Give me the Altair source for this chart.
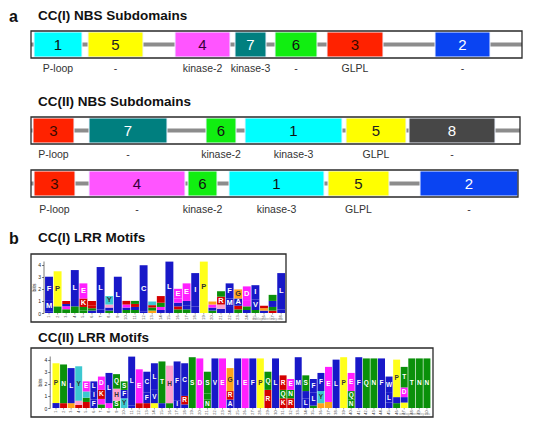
import altair as alt
import numpy as np
import pandas as pd

# ---------------- NBS subdomain diagrams (positions along the NBS) ----------------
nbs1_title = "CC(I) NBS Subdomains"
nbs1_ids = ["1", "5", "4", "7", "6", "3", "2"]
nbs1_start = [3, 57, 144, 204, 244, 296, 404]
nbs1_end = [51, 112, 199, 235, 286, 352, 459]
nbs1_motif = ["P-loop", "-", "kinase-2", "kinase-3", "-", "GLPL", "-"]
nbs1_length = 491

nbs2_title = "CC(II) NBS Subdomains"
nbs2_ids = ["3", "7", "6", "1", "5", "8"]
nbs2_start = [2, 58, 175, 214, 315, 378]
nbs2_end = [43, 136, 205, 311, 375, 464]
nbs2_motif = ["P-loop", "-", "kinase-2", "kinase-3", "GLPL", "-"]
nbs2_length = 489

nbs3_ids = ["3", "4", "6", "1", "5", "2"]
nbs3_start = [3, 58, 157, 198, 297, 389]
nbs3_end = [44, 154, 186, 293, 358, 487]
nbs3_motif = ["P-loop", "-", "kinase-2", "kinase-3", "GLPL", "-"]
nbs3_length = 487

# ---------------- LRR sequence logos (letter, bits), bottom to top ----------------
lrr1_title = "CC(I) LRR Motifs"
lrr1_columns = [
    [("A", 0.15), ("M", 0.85), ("F", 2.0)],
    [("Q", 0.25), ("S", 0.3), ("P", 2.9)],
    [("S", 0.3), ("E", 0.25), ("L", 0.2), ("R", 0.25)],
    [("T", 0.55), ("L", 3.0)],
    [("Q", 0.2), ("S", 0.3), ("K", 0.7), ("E", 1.25)],
    [("A", 0.2), ("S", 0.2), ("R", 0.2), ("K", 0.4)],
    [("V", 0.3), ("L", 3.5)],
    [("S", 0.2), ("A", 0.25), ("H", 0.25), ("Y", 0.7)],
    [("L", 3.0)],
    [("T", 0.25), ("A", 0.2), ("E", 0.25), ("R", 0.3)],
    [("S", 0.25), ("V", 0.25), ("R", 0.25), ("N", 0.25)],
    [("A", 0.1), ("C", 3.85)],
    [("G", 0.2), ("S", 0.25), ("R", 0.2), ("Y", 0.3)],
    [("A", 0.25), ("E", 0.25), ("S", 0.35), ("K", 0.55)],
    [("L", 4.25)],
    [("T", 0.3), ("K", 0.25), ("A", 0.3), ("D", 0.35), ("E", 0.8)],
    [("S", 0.3), ("V", 0.3), ("A", 0.4), ("E", 1.45)],
    [("V", 0.55), ("I", 2.75)],
    [("P", 4.25)],
    [("S", 0.2), ("L", 0.25), ("E", 0.25), ("G", 0.25)],
    [("C", 0.35), ("H", 0.35), ("R", 0.65), ("S", 0.45)],
    [("L", 0.5), ("M", 0.7), ("F", 1.25)],
    [("S", 0.3), ("K", 0.3), ("A", 0.6), ("G", 0.75)],
    [("V", 0.25), ("T", 0.3), ("E", 0.45), ("D", 1.2)],
    [("S", 0.25), ("V", 0.85), ("I", 1.2)],
    [("A", 0.2), ("G", 0.2), ("R", 0.2)],
    [("K", 0.2), ("S", 0.3), ("A", 0.5), ("T", 0.5)],
    [("F", 0.3), ("L", 3.0)],
]

lrr2_title = "CC(II) LRR Motifs"
lrr2_columns = [
    [("L", 0.41), ("P", 3.29)],
    [("R", 0.4), ("N", 3.2)],
    [("G", 0.4), ("L", 2.9)],
    [("K", 0.25), ("H", 0.35), ("Y", 2.85)],
    [("K", 0.5), ("S", 0.35), ("Y", 0.52), ("E", 0.83)],
    [("F", 0.7), ("I", 0.7), ("L", 0.8)],
    [("S", 0.3), ("E", 0.45), ("K", 0.75), ("D", 1.1)],
    [("E", 0.4), ("L", 2.5)],
    [("S", 0.6), ("H", 1.0), ("Q", 1.2)],
    [("Y", 0.8), ("F", 0.7), ("S", 0.7)],
    [("V", 0.2), ("L", 4.05)],
    [("R", 0.4), ("E", 2.8)],
    [("K", 0.4), ("F", 0.9), ("C", 1.7)],
    [("P", 0.4), ("V", 1.1), ("L", 2.2)],
    [("A", 0.4), ("T", 3.45)],
    [("S", 0.4), ("H", 3.1)],
    [("I", 0.6), ("F", 3.25)],
    [("A", 0.3), ("R", 0.7), ("C", 2.7)],
    [("S", 4.2)],
    [("D", 4.1)],
    [("N", 0.7), ("T", 0.5), ("S", 1.8)],
    [("V", 4.1)],
    [("E", 4.1)],
    [("A", 0.7), ("R", 0.7), ("G", 1.9)],
    [("I", 4.1)],
    [("E", 4.1)],
    [("F", 4.1)],
    [("P", 4.1)],
    [("R", 1.5), ("Q", 1.5)],
    [("L", 4.1)],
    [("K", 0.8), ("Q", 0.7), ("R", 1.2)],
    [("R", 0.8), ("N", 0.7), ("E", 0.9)],
    [("M", 4.2)],
    [("L", 0.8), ("C", 0.6), ("S", 1.3)],
    [("T", 0.2), ("L", 1.1), ("F", 1.1)],
    [("G", 0.4), ("Y", 1.0), ("F", 1.5)],
    [("G", 0.5), ("E", 2.9)],
    [("L", 4.0)],
    [("P", 4.2)],
    [("N", 0.7), ("Q", 0.7), ("E", 1.5)],
    [("F", 4.2)],
    [("Q", 4.1)],
    [("N", 4.1)],
    [("F", 4.1)],
    [("M", 0.45), ("L", 0.8), ("W", 1.35)],
    [("S", 0.4), ("A", 0.5), ("P", 3.1)],
    [("P", 0.45), ("A", 0.45), ("D", 0.8), ("T", 1.7)],
    [("T", 4.1)],
    [("N", 4.1)],
    [("N", 4.1)],
]

# ---------------- styles ----------------
domain_fill = {"1": "#00ffff", "2": "#0a44f2", "3": "#ff2200", "4": "#ff55ff",
               "5": "#ffff00", "6": "#11ee11", "7": "#007f7f", "8": "#474747"}
domain_ink = {"1": "#111111", "2": "#ffffff", "3": "#3a0a00", "4": "#3a003a",
              "5": "#222222", "6": "#111111", "7": "#ffffff", "8": "#ffffff"}

BLUE, GREEN, MAG, RED = "#1818c8", "#0a900a", "#ff1fff", "#d40000"
YEL, ORA, CYA, PINK = "#ffff1a", "#ffa31a", "#3cc8d0", "#ff9fcf"
letter_color = {**{k: BLUE for k in "ACFILMVW"}, **{k: GREEN for k in "NQST"},
                "D": MAG, "E": MAG, "K": RED, "R": RED, "G": ORA, "Y": CYA,
                "H": PINK, "P": YEL}
dark_text = list("PGYH")


def heading_layers(one, title, tag, title_y):
    layers = []
    if title:
        layers.append(one.mark_text(align="left", baseline="alphabetic", fontSize=13.5,
                                    fontWeight="bold", color="#111111").encode(
            x=alt.value(7), y=alt.value(title_y), text="title:N"))
    if tag:
        layers.append(one.mark_text(align="left", baseline="alphabetic", fontSize=16,
                                    fontWeight="bold", color="#111111").encode(
            x=alt.value(-22), y=alt.value(title_y + 1.5), text="tag:N"))
    return layers


def nbs_panel(ids, start, end, motif, length, height, label_y,
              title=None, title_y=-11, tag=None, box_h=27):
    df = pd.DataFrame({"id": ids, "start": start, "end": end, "motif": motif})
    df["mid"] = (df["start"] + df["end"]) / 2
    df["fill"] = df["id"].map(domain_fill)
    df["ink"] = df["id"].map(domain_ink)
    xs = alt.Scale(domain=[0, length], nice=False, zero=False)
    base = alt.Chart(df)
    one = alt.Chart(pd.DataFrame({"title": [title or ""], "tag": [tag or ""]}))
    layers = [
        one.mark_rule(color="#8c8c8c", strokeWidth=4).encode(
            x=alt.value(0), x2=alt.value(length), y=alt.value(box_h / 2)),
        base.mark_rect(stroke="#eef3ff", strokeWidth=1).encode(
            x=alt.X("start:Q", scale=xs, axis=None), x2="end:Q",
            y=alt.value(1), y2=alt.value(box_h - 1),
            color=alt.Color("fill:N", scale=None)),
        base.mark_text(fontSize=15, baseline="middle").encode(
            x=alt.X("mid:Q", scale=xs, axis=None), y=alt.value(box_h / 2 + 0.5),
            text="id:N", color=alt.Color("ink:N", scale=None)),
        base.mark_text(fontSize=10.5, baseline="middle", color="#333333").encode(
            x=alt.X("mid:Q", scale=xs, axis=None), y=alt.value(label_y), text="motif:N"),
        one.mark_rect(fillOpacity=0, stroke="#2a2a2a", strokeWidth=1.3).encode(
            x=alt.value(0), x2=alt.value(length), y=alt.value(0), y2=alt.value(box_h)),
    ]
    layers += heading_layers(one, title, tag, title_y)
    return alt.layer(*layers).properties(width=length, height=height)


def logo_panel(columns, length, lead, step, axis_at, letter_size, title, title_y,
               height, tag=None, top=7, plot_h=52, box_h=68):
    rows = []
    for i, col in enumerate(columns, start=1):
        y = 0.0
        for letter, bits in col:
            rows.append({"pos": i, "letter": letter, "y0": y, "y1": y + bits})
            y += bits
    df = pd.DataFrame(rows)
    df["xa"] = df["pos"] - 0.46
    df["xb"] = df["pos"] + 0.46
    df["ym"] = (df["y0"] + df["y1"]) / 2
    df["fill"] = df["letter"].map(letter_color)
    df["ink"] = np.where(df["letter"].isin(dark_text), "#333333", "#ffffff")
    lab = df[(df["y1"] - df["y0"]) >= 0.6]
    n = len(columns)
    xs = alt.Scale(domain=[0.5 - lead / step, 0.5 + (length - lead) / step],
                   nice=False, zero=False)
    ys = alt.Scale(domain=[0, 4.3], range=[top + plot_h, top], nice=False)
    y_axis = alt.Axis(values=[0, 1, 2, 3, 4], title="bits", titleFontSize=5,
                      titleFontWeight="normal", titlePadding=1, labelFontSize=5,
                      labelPadding=1, tickSize=2, tickWidth=0.6, domainWidth=0.6,
                      domainColor="#222222", tickColor="#222222", labelColor="#222222",
                      titleColor="#222222", offset=-axis_at, grid=False, format="d")
    one = alt.Chart(pd.DataFrame({"title": [title or ""], "tag": [tag or ""],
                                  "credit": ["weblogo.berkeley.edu"]}))
    ticks = alt.Chart(pd.DataFrame({"pos": list(range(1, n + 1))}))
    layers = [
        alt.Chart(df).mark_rect().encode(
            x=alt.X("xa:Q", scale=xs, axis=None), x2="xb:Q",
            y=alt.Y("y0:Q", scale=ys, axis=y_axis), y2="y1:Q",
            color=alt.Color("fill:N", scale=None)),
        alt.Chart(lab).mark_text(fontSize=letter_size, fontWeight="bold",
                                 baseline="middle").encode(
            x=alt.X("pos:Q", scale=xs, axis=None),
            y=alt.Y("ym:Q", scale=ys, axis=y_axis),
            text="letter:N", color=alt.Color("ink:N", scale=None)),
        ticks.mark_rule(color="#444444", strokeWidth=0.5).encode(
            x=alt.X("pos:Q", scale=xs, axis=None),
            y=alt.value(top + plot_h), y2=alt.value(top + plot_h + 1.5)),
        ticks.mark_text(angle=270, align="right", baseline="middle", fontSize=3.8,
                        color="#444444").encode(
            x=alt.X("pos:Q", scale=xs, axis=None),
            y=alt.value(top + plot_h + 2.5), text="pos:N"),
        one.mark_text(align="right", baseline="bottom", fontSize=3.2,
                      color="#999999").encode(
            x=alt.value(length - 3), y=alt.value(box_h - 1.5), text="credit:N"),
        one.mark_rect(fillOpacity=0, stroke="#2a2a2a", strokeWidth=1.3).encode(
            x=alt.value(0), x2=alt.value(length), y=alt.value(0), y2=alt.value(box_h)),
    ]
    layers += heading_layers(one, title, tag, title_y)
    return alt.layer(*layers).properties(width=length, height=height)


p1 = nbs_panel(nbs1_ids, nbs1_start, nbs1_end, nbs1_motif, nbs1_length,
               height=86, label_y=38, title=nbs1_title, title_y=-11, tag="a")
p2 = nbs_panel(nbs2_ids, nbs2_start, nbs2_end, nbs2_motif, nbs2_length,
               height=53, label_y=37.5, title=nbs2_title, title_y=-11.5)
p3 = nbs_panel(nbs3_ids, nbs3_start, nbs3_end, nbs3_motif, nbs3_length,
               height=84, label_y=40)
p4 = logo_panel(lrr1_columns, length=255, lead=13.7, step=8.6, axis_at=12.5,
                letter_size=7.5, title=lrr1_title, title_y=-12, height=94, tag="b")
p5 = logo_panel(lrr2_columns, length=402, lead=21.2, step=7.57, axis_at=18.7,
                letter_size=6.5, title=lrr2_title, title_y=-6, height=69, top=8,
                box_h=69)

chart = (
    alt.vconcat(p1, p2, p3, p4, p5, spacing=0, bounds="flush")
    .properties(padding=0)
    .configure(font="Liberation Sans")
    .configure_view(stroke="transparent")
)

chart.save("out.html", embed_options={"renderer": "svg", "actions": False})
